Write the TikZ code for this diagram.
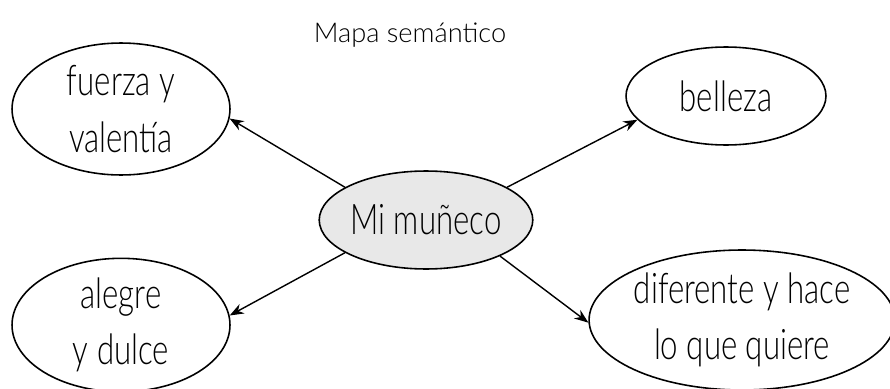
\documentclass[tikz,border=0pt]{standalone}
\usepackage{fontspec}
\setmainfont{Lato Light}
\newfontfamily\ideafont{Lato Light}[FakeStretch=0.74]
\usepackage{tikz}
\usetikzlibrary{shapes.geometric,arrows.meta}

\begin{document}
\begin{tikzpicture}[x=0.02cm,y=-0.02cm,
	idea/.style={ellipse,draw,line width=0.9pt,inner sep=0pt,align=center,
		font=\ideafont\fontsize{24}{32}\selectfont},
	centro/.style={idea,fill=gray!18}]
	\useasboundingbox (0,0) rectangle (890,389);
	\node[font=\fontsize{15.5}{20}\selectfont] (titulo) at (410,35) {Mapa semántico};
	\node[centro,minimum width=4.04cm,minimum height=1.96cm] (mu) at (426,220) {Mi muñeco};
	\node[idea,minimum width=4.36cm,minimum height=2.64cm] (fv) at (121,109) {fuerza y\\valentía};
	\node[idea,minimum width=4.0cm,minimum height=1.96cm] (be) at (726,96) {belleza};
	\node[idea,minimum width=4.36cm,minimum height=2.52cm] (ad) at (121,325) {alegre\\y dulce};
	\node[idea,minimum width=5.9cm,minimum height=2.8cm] (dh) at (742,320) {diferente y hace\\lo que quiere};
	%\draw[->] (mu) -- (fv);
	\path[-{Stealth[length=8pt,width=6pt]},line width=0.8pt]
	(mu.158) edge (fv.-5)
	(mu.22) edge (be.195)
	(mu.202) edge (ad.5)
	(mu.334) edge (dh.181);
\end{tikzpicture}
\end{document}
